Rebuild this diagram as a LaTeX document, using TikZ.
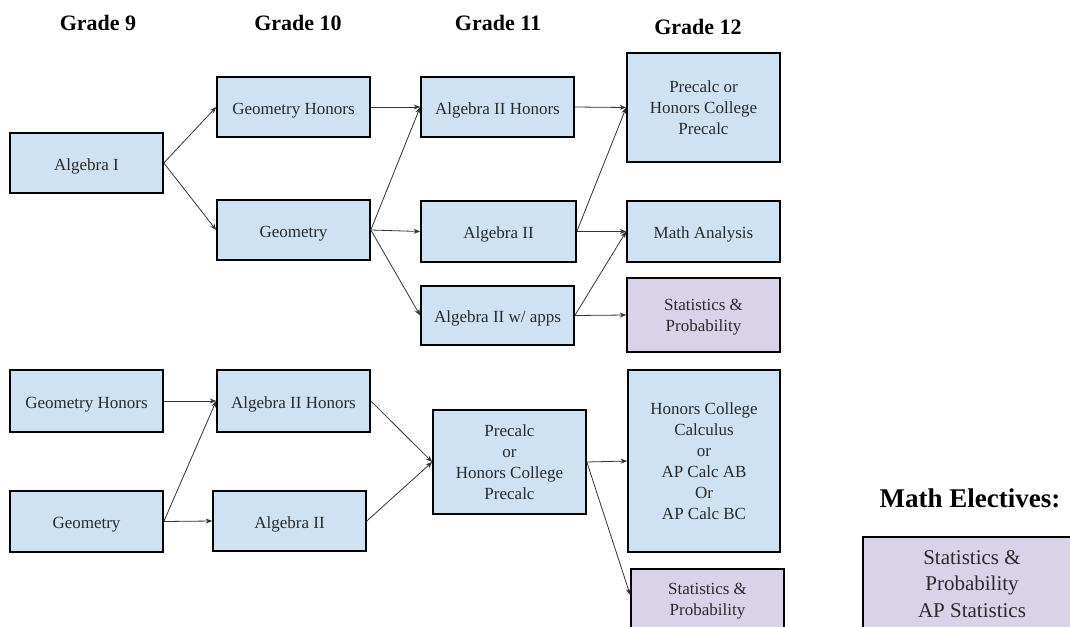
\documentclass[tikz,border=0pt]{standalone}
\usepackage{fontspec}
\setmainfont{Liberation Serif}
\usetikzlibrary{arrows.meta}
\definecolor{blueF}{HTML}{CFE2F3}
\definecolor{purpF}{HTML}{D9D2E9}
\definecolor{txt}{HTML}{2A2A2A}
\definecolor{arr}{HTML}{333333}
\begin{document}
\begin{tikzpicture}[x=1pt,y=-1pt,
  course/.style={draw=black, line width=1.6pt, fill=blueF, align=center, inner sep=0pt,
    text=txt, font=\fontsize{17}{21}\selectfont, minimum width=153pt},
  one/.style={text height=14pt, text depth=0pt},
  elect/.style={course, fill=purpF},
  head/.style={font=\fontsize{22}{26}\selectfont\bfseries, text=black},
  link/.style={draw=arr, line width=0.8pt, -{Stealth[length=6.5pt,width=5pt]}}]
\useasboundingbox (0,0) rectangle (1070,626);
\fill[white] (0,0) rectangle (1070,626);
\clip (0,0) rectangle (1070,626);

% headers
\node[head] (h9) at (98,23) {Grade 9};
\node[head] (h10) at (298,23) {Grade 10};
\node[head] (h11) at (498,23) {Grade 11};
\node[head] (h12) at (698,27) {Grade 12};
\node[head, font=\fontsize{27}{31}\selectfont\bfseries] (hel) at (970,498) {Math Electives:};

% top section
\node[course, one, minimum height=60pt] (alg1) at (86.5,163) {Algebra I};
\node[course, one, minimum height=60pt] (geoH) at (293.5,107) {Geometry Honors};
\node[course, one, minimum height=60pt] (geo) at (293.5,230) {Geometry};
\node[course, one, minimum height=60pt] (a2H) at (497.5,107) {Algebra II Honors};
\node[course, one, minimum height=61pt, minimum width=155pt] (a2) at (498.5,231.5) {Algebra II};
\node[course, one, minimum height=59pt] (a2w) at (497.5,315.5) {Algebra II w/ apps};
\node[course, minimum height=109pt] (pre12) at (703.5,107.5) {Precalc or\\Honors College\\Precalc};
\node[course, one, minimum height=61pt] (ma) at (703.5,231.5) {Math Analysis};
\node[elect, minimum height=74pt] (st12) at (703.5,315) {\strut Statistics \&\\Probability};

% bottom section
\node[course, one, minimum height=62pt] (geoH9) at (86.5,401) {Geometry Honors};
\node[course, one, minimum height=61pt] (geo9) at (86.5,521.5) {Geometry};
\node[course, one, minimum height=62pt] (a2H10) at (293.5,401) {Algebra II Honors};
\node[course, one, minimum height=60pt] (a210) at (289.5,521) {Algebra II};
\node[course, minimum height=104pt] (pre11) at (509.5,462) {Precalc\\or\\Honors College\\Precalc};
\node[course, minimum height=182pt, minimum width=152pt] (hcc) at (704,461) {Honors College\\Calculus\\or\\AP Calc AB\\Or\\AP Calc BC};
\node[elect, minimum height=60pt] (stB) at (707.5,599) {\strut Statistics \&\\Probability};
\node[elect, minimum height=94pt, minimum width=218pt, font=\fontsize{21}{26.5}\selectfont] (el) at (972,584) {Statistics \&\\Probability\\AP Statistics};

% connectors top
\draw[link] (alg1.east) -- (geoH.west);
\draw[link] (alg1.east) -- (geo.west);
\draw[link] (geoH.east) -- (a2H.west);
\draw[link] (geo.east) -- (a2H.west);
\draw[link] (geo.east) -- (a2.west);
\draw[link] (geo.east) -- (a2w.west);
\draw[link] (a2H.east) -- (pre12.west);
\draw[link] (a2.east) -- (pre12.west);
\draw[link] (a2.east) -- (ma.west);
\draw[link] (a2w.east) -- (ma.west);
\draw[link] (a2w.east) -- (st12.west);

% connectors bottom
\draw[link] (geoH9.east) -- (a2H10.west);
\draw[link] (geo9.east) -- (a2H10.west);
\draw[link] (geo9.east) -- (a210.west);
\draw[link] (a2H10.east) -- (pre11.west);
\draw[link] (a210.east) -- (pre11.west);
\draw[link] (pre11.east) -- (hcc.west);
\draw[link] (pre11.east) -- ([yshift=4pt]stB.west);
\end{tikzpicture}
\end{document}
